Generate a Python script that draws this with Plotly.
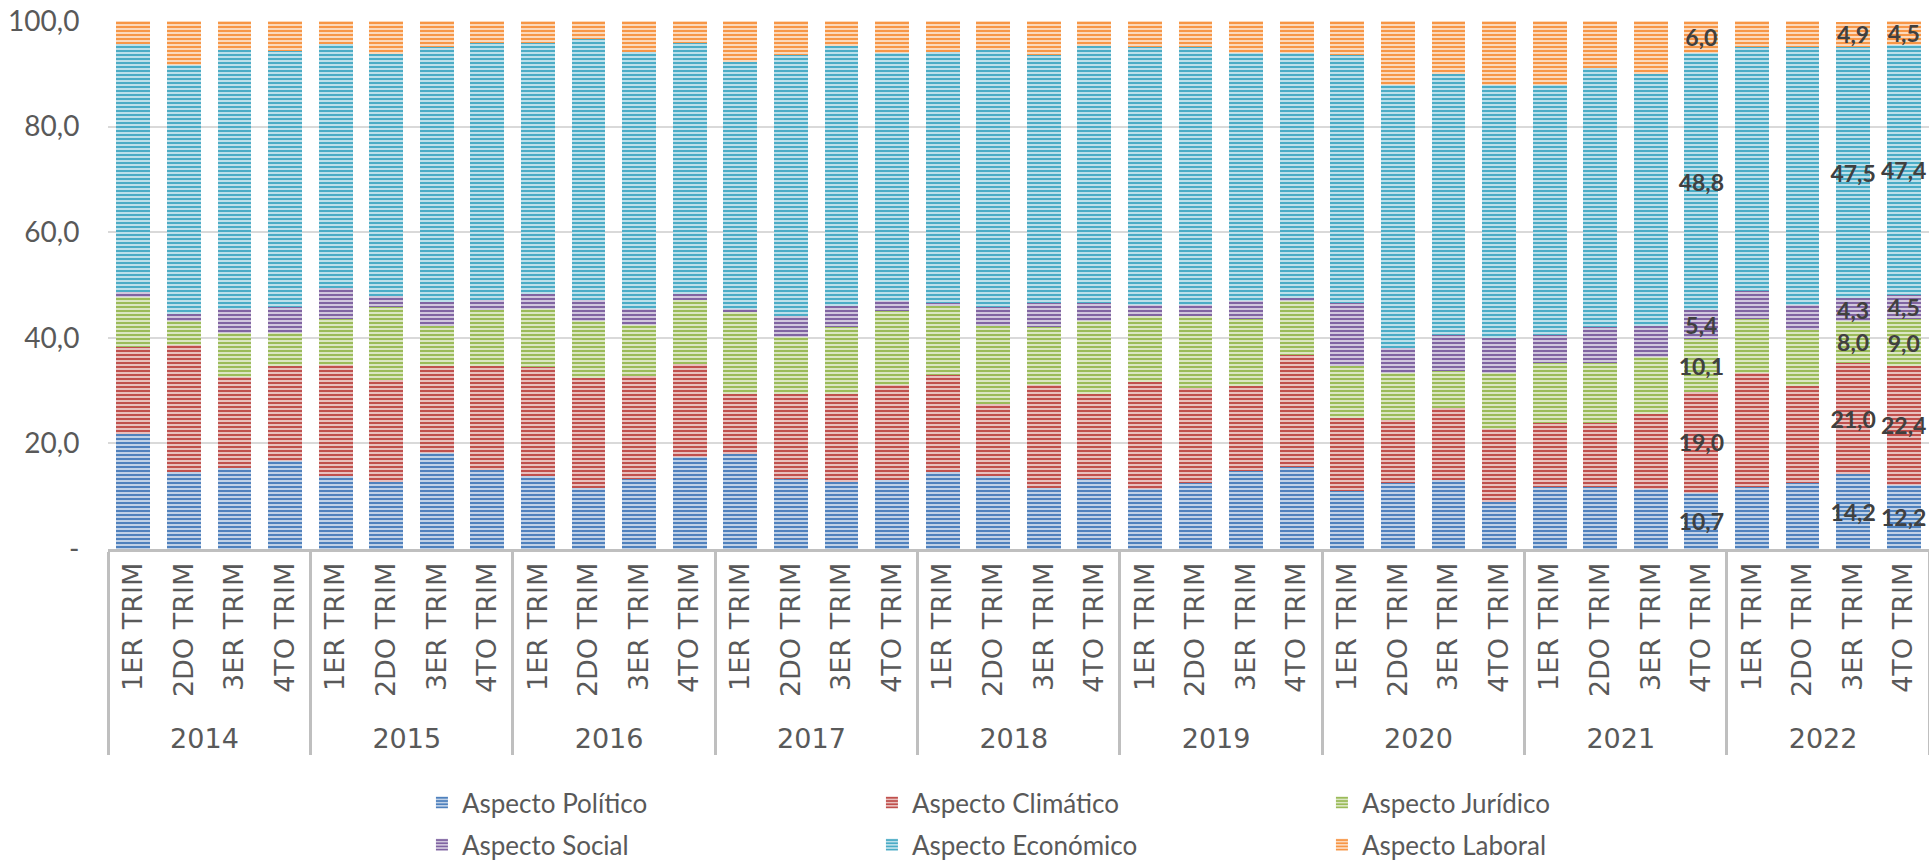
import plotly.graph_objects as go

years = ["2014", "2015", "2016", "2017", "2018", "2019", "2020", "2021", "2022"]
quarters = ["1ER TRIM", "2DO TRIM", "3ER TRIM", "4TO TRIM"]

politico = [21.8, 14.5, 15.3, 16.7, 13.8, 12.6, 18.1, 14.9, 13.8, 11.5, 13.3, 17.4,
            17.9, 13.3, 12.6, 13.1, 14.5, 13.8, 11.6, 13.3, 11.3, 12.5, 14.8, 15.6,
            11.0, 12.5, 13.1, 8.9, 11.8, 11.8, 11.3, 10.7, 11.8, 12.5, 14.2, 12.2]
climatico = [16.5, 24.2, 17.3, 17.9, 21.0, 19.4, 16.5, 19.7, 20.6, 20.8, 19.5, 17.7,
             11.4, 16.0, 16.7, 17.9, 18.4, 13.6, 19.4, 16.0, 20.3, 17.9, 16.1, 21.2,
             13.9, 12.0, 13.7, 13.8, 12.0, 12.0, 14.2, 19.0, 21.5, 18.4, 21.0, 22.4]
juridico = [9.4, 4.5, 8.3, 6.3, 8.7, 13.9, 7.7, 10.7, 11.0, 10.9, 9.7, 12.0,
            15.6, 10.9, 12.8, 14.1, 13.1, 14.9, 11.1, 13.8, 12.5, 13.7, 12.7, 10.2,
            9.7, 8.9, 7.0, 10.6, 11.5, 11.5, 10.8, 10.1, 10.2, 10.5, 8.0, 9.0]
social = [1.0, 1.4, 4.5, 4.9, 5.9, 2.0, 4.4, 1.8, 2.9, 3.9, 2.9, 1.2,
          0.5, 4.0, 3.9, 1.8, 0.5, 3.5, 4.4, 3.5, 2.2, 2.2, 3.3, 0.6,
          12.0, 4.7, 6.7, 6.6, 5.2, 6.8, 5.9, 5.4, 5.3, 4.9, 4.3, 4.5]
economico = [46.9, 47.0, 49.2, 48.5, 46.2, 45.9, 48.3, 48.8, 47.5, 49.4, 48.7, 47.5,
             46.9, 49.4, 49.3, 47.0, 47.6, 48.7, 47.1, 48.7, 48.8, 48.8, 47.1, 46.3,
             47.0, 49.8, 49.4, 48.0, 47.4, 49.0, 47.7, 48.8, 46.3, 48.8, 47.5, 47.4]
laboral = [4.4, 8.4, 5.4, 5.7, 4.4, 6.2, 5.0, 4.1, 4.2, 3.5, 5.9, 4.2,
           7.7, 6.4, 4.7, 6.1, 5.9, 5.5, 6.4, 4.7, 4.9, 4.9, 6.0, 6.1,
           6.4, 12.1, 10.1, 12.1, 12.1, 8.9, 10.1, 6.0, 4.9, 4.9, 4.9, 4.5]

series_names = ["Aspecto Político", "Aspecto Climático", "Aspecto Jurídico",
                "Aspecto Social", "Aspecto Económico", "Aspecto Laboral"]
series_values = [politico, climatico, juridico, social, economico, laboral]

# points carrying data labels in the original
labeled_points = [("2021", "4TO TRIM"), ("2022", "3ER TRIM"), ("2022", "4TO TRIM")]

y_tick_vals = [0, 20, 40, 60, 80, 100]
y_tick_text = ["-", "20,0", "40,0", "60,0", "80,0", "100,0"]

main_colors = ["#4F81BD", "#C0504D", "#9BBB59", "#8064A2", "#4BACC6", "#F79646"]
light_colors = ["#DCE6F2", "#F2DCDB", "#EBF1DE", "#E6E0EC", "#DAEEF3", "#FDEADA"]

x_year = [y for y in years for q in quarters]
x_quarter = [q for y in years for q in quarters]

fig = go.Figure()
for i, (name, vals) in enumerate(zip(series_names, series_values)):
    texts = []
    for yv, qv, v in zip(x_year, x_quarter, vals):
        if (yv, qv) in labeled_points:
            texts.append(f"{v:.1f}".replace(".", ","))
        else:
            texts.append("")
    fig.add_trace(go.Bar(
        x=[x_year, x_quarter],
        y=vals,
        name=name,
        text=texts,
        textposition="inside",
        insidetextanchor="middle",
        constraintext="none",
        textangle=0,
        textfont=dict(family="Lato", size=23, color="#404040", weight="bold"),
        marker=dict(
            color=light_colors[i],
            line=dict(width=0),
            pattern=dict(shape="-", fgcolor=main_colors[i], bgcolor=light_colors[i],
                         size=4, solidity=0.6, fillmode="replace"),
        ),
        legend="legend" if i < 3 else "legend2",
        cliponaxis=False,
    ))

legend_common = dict(orientation="h", x=0.1724, xanchor="left",
                     entrywidth=405, entrywidthmode="pixels", traceorder="normal",
                     font=dict(family="Lato", size=26, color="#595959"),
                     bgcolor="rgba(0,0,0,0)")

fig.update_layout(
    width=1929, height=865,
    barmode="stack",
    bargap=0.33,
    plot_bgcolor="white",
    paper_bgcolor="white",
    margin=dict(l=108, r=0, t=21, b=316, autoexpand=False),
    font=dict(family="Lato", color="#595959", size=24),
    showlegend=True,
    legend=dict(y=-0.436, yanchor="top", **legend_common),
    legend2=dict(y=-0.605, yanchor="bottom", **legend_common),
)

fig.update_yaxes(
    range=[0, 100],
    tickvals=y_tick_vals,
    ticktext=y_tick_text,
    showgrid=True, gridcolor="#D9D9D9", gridwidth=1.5,
    zeroline=False, showline=False,
    ticks="outside", ticklen=22, tickcolor="rgba(0,0,0,0)",
    tickfont=dict(family="Lato", size=28, color="#595959"),
)

fig.update_xaxes(
    type="multicategory",
    showline=True, linecolor="#BFBFBF", linewidth=3,
    showdividers=True, dividercolor="#BFBFBF", dividerwidth=3,
    tickangle=-90,
    ticks="outside", ticklen=30, tickcolor="rgba(0,0,0,0)",
    tickfont=dict(family="DejaVu Sans", size=27, color="#595959"),
    showgrid=False,
)

fig.write_html("out.html", post_script="document.body.style.margin='0';",
               config={"displayModeBar": False})
